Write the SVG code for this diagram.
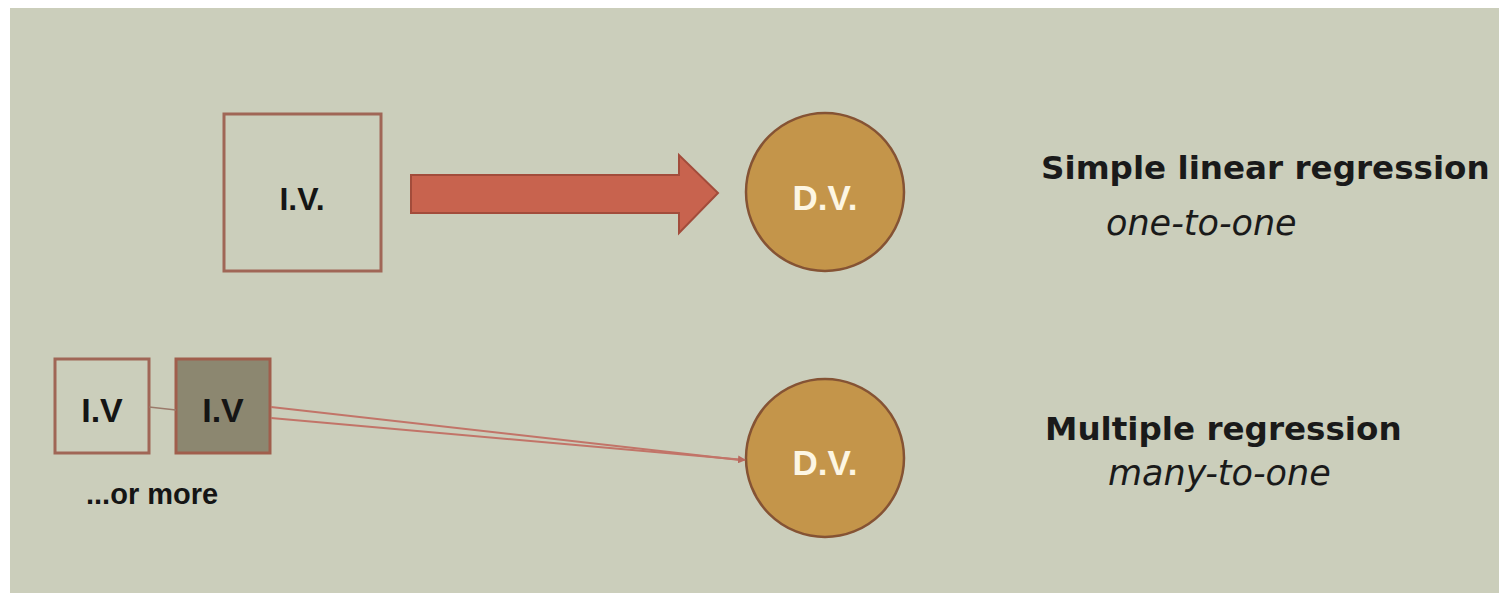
<svg xmlns="http://www.w3.org/2000/svg" width="1499" height="593" viewBox="0 0 1499 593">
<style>
.box{fill:none;stroke:#a06656;stroke-width:3}
.dv{fill:#c4954a;stroke:#855334;stroke-width:2.5}
.iv{font-family:"Liberation Sans",Arial,sans-serif;font-weight:bold;fill:#151515;text-anchor:middle}
.dvt{font-family:"Liberation Sans",Arial,sans-serif;font-weight:bold;fill:#fdf6e3;text-anchor:middle;font-size:35px}
.title{font-family:"DejaVu Sans",sans-serif;font-weight:bold;font-size:32.6px;fill:#1a1a1a}
.sub{font-family:"DejaVu Sans",sans-serif;font-style:italic;font-size:35px;fill:#1a1a1a}
.link{fill:none;stroke:#c27468;stroke-width:2}
</style>
<defs>
<marker id="ah" markerWidth="8" markerHeight="8" refX="7" refY="4" orient="auto" markerUnits="userSpaceOnUse" viewBox="0 0 8 8">
<path d="M0,0 L8,4 L0,8 Z" fill="#b86a5e"/>
</marker>
</defs>
<rect x="10" y="8" width="1489" height="585" fill="#cbcebb"/>
<g id="iv-top">
<rect class="box" x="224" y="114" width="157" height="157"/>
<text class="iv" x="302" y="210" font-size="32">I.V.</text>
</g>
<g id="dv-top">
<circle class="dv" cx="825" cy="192" r="79"/>
<text class="dvt" x="825" y="210">D.V.</text>
</g>
<g id="iv-a">
<rect class="box" x="55" y="359" width="94" height="94"/>
<text class="iv" x="102" y="422" font-size="34">I.V</text>
</g>
<g id="iv-b">
<rect x="176" y="359" width="94" height="94" fill="#8c8770" stroke="#a05e4c" stroke-width="3"/>
<text class="iv" x="223" y="422" font-size="34">I.V</text>
</g>
<g id="dv-bottom">
<circle class="dv" cx="825" cy="458" r="79"/>
<text class="dvt" x="825" y="475">D.V.</text>
</g>
<g id="connectors">
<path d="M411,175 H679 V155 L718,193 L679,233 V213 H411 Z" fill="#c8634e" stroke="#a24c3b" stroke-width="2"/>
<line x1="149" y1="407" x2="176" y2="410" stroke="#9a7a6a" stroke-width="1.5"/>
<line class="link" x1="271" y1="407" x2="740" y2="460"/>
<line class="link" x1="271" y1="418" x2="745" y2="460" marker-end="url(#ah)"/>
</g>
<g id="labels">
<text x="86" y="504" font-family="Liberation Sans,Arial,sans-serif" font-weight="bold" font-size="29" fill="#151515">...or more</text>
<text class="title" x="1041" y="179">Simple linear regression</text>
<text class="sub" x="1106" y="235">one-to-one</text>
<text class="title" x="1045" y="440">Multiple regression</text>
<text class="sub" x="1108" y="485">many-to-one</text>
</g>
</svg>
